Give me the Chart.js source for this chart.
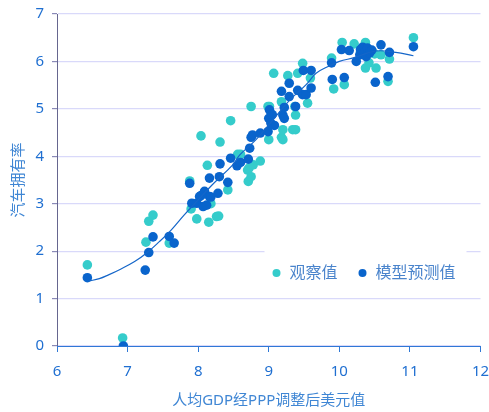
<!DOCTYPE html>
<html>
<head>
<meta charset="utf-8">
<script src="https://cdn.jsdelivr.net/npm/chart.js@4"></script>
<style>
  html, body { margin: 0; padding: 0; background: #fff; }
  #wrap { width: 489px; height: 412px; }
</style>
</head>
<body>
<div id="wrap"><canvas id="c" width="489" height="412"></canvas></div>
<script>
// Observed car ownership (log scale) vs log GDP per capita (PPP)
const obsGdp  = [6.43, 6.93, 7.26, 7.30, 7.36, 7.59, 7.88, 7.90, 7.98, 8.04, 8.13, 8.15, 8.18, 8.26, 8.29, 8.31, 8.42, 8.46, 8.56, 8.60, 8.70, 8.71, 8.72, 8.75, 8.75, 8.78, 8.88, 8.99, 9.00, 9.01, 9.07, 9.18, 9.18, 9.20, 9.20, 9.27, 9.34, 9.37, 9.38, 9.38, 9.41, 9.48, 9.55, 9.59, 9.89, 9.92, 10.04, 10.07, 10.21, 10.30, 10.37, 10.37, 10.42, 10.50, 10.52, 10.59, 10.69, 10.71, 11.05];
const obsRate = [1.71, 0.17, 2.19, 2.63, 2.76, 2.17, 3.48, 2.89, 2.68, 4.43, 3.81, 2.61, 3.00, 2.73, 2.74, 4.30, 3.29, 4.75, 4.04, 4.04, 3.71, 3.47, 3.75, 3.57, 5.05, 3.82, 3.90, 5.05, 4.35, 5.05, 5.75, 5.15, 4.40, 4.56, 4.35, 5.70, 4.56, 5.05, 4.87, 4.56, 5.75, 5.96, 5.12, 5.65, 6.07, 5.42, 6.40, 5.51, 6.37, 6.20, 6.40, 5.86, 5.97, 6.16, 5.86, 6.14, 5.58, 6.05, 6.50];

// Model predictions
const predGdp  = [6.43, 6.94, 7.25, 7.30, 7.36, 7.59, 7.66, 7.88, 7.91, 7.98, 8.02, 8.04, 8.07, 8.09, 8.12, 8.16, 8.16, 8.18, 8.28, 8.30, 8.31, 8.42, 8.46, 8.55, 8.60, 8.71, 8.73, 8.75, 8.77, 8.88, 8.99, 9.00, 9.01, 9.03, 9.05, 9.08, 9.18, 9.20, 9.22, 9.22, 9.29, 9.29, 9.38, 9.41, 9.48, 9.49, 9.53, 9.60, 9.60, 9.89, 9.90, 10.03, 10.07, 10.14, 10.24, 10.29, 10.30, 10.33, 10.36, 10.38, 10.40, 10.43, 10.46, 10.51, 10.59, 10.69, 10.71, 11.05];
const predRate = [1.44, 0.00, 1.60, 1.97, 2.30, 2.31, 2.17, 3.43, 3.01, 3.01, 3.15, 3.17, 2.94, 3.26, 2.97, 3.15, 3.54, 3.14, 3.22, 3.57, 3.84, 3.45, 3.96, 3.80, 3.87, 3.94, 4.17, 4.40, 4.45, 4.49, 4.52, 4.80, 4.98, 4.70, 4.88, 4.65, 5.37, 4.87, 4.80, 5.03, 5.54, 5.26, 5.05, 5.39, 5.30, 5.81, 5.30, 5.44, 5.81, 5.97, 5.62, 6.25, 5.66, 6.23, 6.00, 6.14, 6.25, 6.30, 6.20, 6.10, 6.28, 6.18, 6.24, 5.56, 6.35, 5.68, 6.19, 6.31];

// Smoothed fit curve
const fitGdp  = [6.45, 6.60, 6.73, 6.90, 7.10, 7.27, 7.45, 7.62, 7.80, 8.00, 8.20, 8.49, 8.59, 8.82, 9.06, 9.30, 9.53, 9.67, 9.85, 10.00, 10.21, 10.52, 10.80, 11.05];
const fitRate = [1.37, 1.42, 1.50, 1.62, 1.78, 1.96, 2.20, 2.45, 2.76, 3.08, 3.40, 3.82, 4.03, 4.35, 4.77, 5.19, 5.51, 5.75, 5.90, 6.00, 6.08, 6.22, 6.19, 6.12];

const xTicks = [6, 7, 8, 9, 10, 11, 12];
const yTicks = [0, 1, 2, 3, 4, 5, 6, 7];

const seriesNames = ['观察值', '模型预测值'];
const xTitle = '人均GDP经PPP调整后美元值';
const yTitle = '汽车拥有率';

const TEAL = '#35cccb';
const BLUE = '#0964cc';
const FONT = "'Noto Sans', 'Noto Sans CJK SC', sans-serif";

const pts = (xs, ys) => xs.map((x, i) => ({ x, y: ys[i] }));

// Legend drawn inside the plot area on a white panel
const innerLegend = {
  id: 'innerLegend',
  afterDraw(chart) {
    const { ctx, chartArea } = chart;
    const left = chartArea.right - 216;
    const top = chartArea.bottom - 96;
    const w = 202, h = 48;
    const cy = top + h / 2 - 1;
    ctx.save();
    ctx.fillStyle = '#ffffff';
    ctx.fillRect(left, top, w, h);
    ctx.font = '16px ' + FONT;
    ctx.textBaseline = 'middle';
    ctx.textAlign = 'left';
    let x = left + 12;
    chart.data.datasets.slice(0, 2).forEach((ds) => {
      ctx.fillStyle = ds.backgroundColor;
      ctx.beginPath();
      ctx.arc(x, cy, 4, 0, Math.PI * 2);
      ctx.fill();
      ctx.fillStyle = '#4a84cc';
      ctx.fillText(ds.label, x + 13, cy);
      x += 13 + ctx.measureText(ds.label).width + 25;
    });
    ctx.restore();
  }
};

new Chart(document.getElementById('c'), {
  type: 'scatter',
  data: {
    datasets: [
      { label: seriesNames[0], data: pts(obsGdp, obsRate), backgroundColor: TEAL, borderWidth: 0, pointRadius: 4.8, order: 3 },
      { label: seriesNames[1], data: pts(predGdp, predRate), backgroundColor: BLUE, borderWidth: 0, pointRadius: 4.8, order: 2 },
      { label: 'fit', data: pts(fitGdp, fitRate), showLine: true, borderColor: '#1566c9', borderWidth: 1.2, pointRadius: 0, tension: 0.4, order: 1 }
    ]
  },
  options: {
    responsive: false,
    animation: false,
    layout: { padding: { top: 14, right: 0, bottom: 0, left: 0 } },
    plugins: { legend: { display: false }, tooltip: { enabled: false } },
    scales: {
      x: {
        type: 'linear', min: xTicks[0], max: xTicks[xTicks.length - 1],
        afterBuildTicks: (s) => { s.ticks = xTicks.map(v => ({ value: v })); },
        afterFit: (s) => { s.height = 66; s.paddingLeft = 0; s.paddingRight = 8.5; },
        border: { color: '#2f78d6', width: 1 },
        grid: { drawOnChartArea: false, drawTicks: true, tickLength: 6, color: '#2f78d6' },
        ticks: { color: '#1f6fd1', font: { family: FONT, size: 15 }, padding: 11 },
        title: { display: true, text: xTitle, color: '#3f86d4', font: { family: FONT, size: 15 }, padding: { top: 4, bottom: 2 } }
      },
      y: {
        type: 'linear', min: yTicks[0], max: yTicks[yTicks.length - 1],
        afterBuildTicks: (s) => { s.ticks = yTicks.map(v => ({ value: v })); },
        afterFit: (s) => { s.width = 57; s.paddingTop = 0; s.paddingBottom = 0; },
        border: { color: '#66668f', width: 1 },
        grid: { color: '#d9d9fa', tickColor: '#8a8ab8', lineWidth: 1.2, drawTicks: true, tickLength: 5 },
        ticks: { color: '#1f6fd1', font: { family: FONT, size: 15 }, padding: 8 },
        title: { display: true, text: yTitle, color: '#3f86d4', font: { family: FONT, size: 15 }, padding: { top: 10, bottom: 2 } }
      }
    }
  },
  plugins: [innerLegend]
});
</script>
</body>
</html>
